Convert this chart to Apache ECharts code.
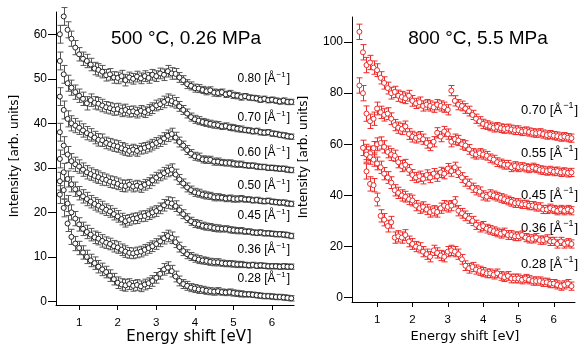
<!DOCTYPE html>
<html>
<head>
<meta charset="utf-8">
<script src="https://cdn.jsdelivr.net/npm/echarts@6/dist/echarts.min.js"></script>
<style>
  html, body { margin: 0; padding: 0; background: #fff; }
  #chart { width: 581px; height: 346px; }
</style>
</head>
<body>
<div id="chart"></div>
<script>
// energy shift grid [eV], shared by both panels
const energy = [
  0.5, 0.6, 0.7, 0.8, 0.9, 1.0,
  1.1, 1.2, 1.3, 1.4, 1.5, 1.6, 1.7, 1.8, 1.9, 2.0,
  2.1, 2.2, 2.3, 2.4, 2.5, 2.6, 2.7, 2.8, 2.9, 3.0,
  3.1, 3.2, 3.3, 3.4, 3.5, 3.6, 3.7, 3.8, 3.9, 4.0,
  4.1, 4.2, 4.3, 4.4, 4.5, 4.6, 4.7, 4.8, 4.9, 5.0,
  5.1, 5.2, 5.3, 5.4, 5.5, 5.6, 5.7, 5.8, 5.9, 6.0,
  6.1, 6.2, 6.3, 6.4, 6.5
];
const energyTicks = [1, 2, 3, 4, 5, 6];
const leftTicks = [0, 10, 20, 30, 40, 50, 60];
const rightTicks = [0, 20, 40, 60, 80, 100];

const leftTitle = "500 °C, 0.26 MPa";
const rightTitle = "800 °C, 5.5 MPa";
const xName = "Energy shift [eV]";
const yName = "Intensity [arb. units]";

// 500 C, 0.26 MPa (offset spectra)
const leftQ = ["0.80", "0.70", "0.60", "0.50", "0.45", "0.36", "0.28"];
const l080 = [
  60, 64, 61, 59, 57, 55.5,
  54.5, 54, 53.2, 52.3, 52, 51.6, 50.8, 51, 50.3, 50.2,
  50.6, 49.7, 50.3, 50, 50.5, 50.1, 50.6, 50.2, 50.9, 50.6,
  51.2, 50.9, 51.7, 51.2, 51.1, 50.3, 49.7, 48.8, 48.4, 47.9,
  47.8, 47.5, 47.2, 47.4, 46.9, 46.8, 47, 46.5, 46.7, 46.3,
  46.2, 45.9, 46.1, 45.8, 45.7, 45.6, 45.3, 45.5, 45.2, 45.3,
  45.1, 44.9, 45.1, 44.8, 44.8
];
const l070 = [
  54, 51, 49, 48, 47, 46.2,
  45.5, 44.5, 45.2, 44.6, 44.4, 44, 43.6, 43.4, 43.1, 43.2,
  42.8, 43, 42.6, 42.7, 42.4, 42.8, 42.5, 43, 43.4, 44,
  44.3, 44.8, 45.3, 45, 44.6, 43.8, 43, 42.2, 41.4, 40.9,
  40.6, 40.3, 40.1, 39.9, 39.7, 39.6, 39.3, 39.4, 39.1, 39,
  38.8, 38.7, 38.5, 38.4, 38.2, 38.3, 38, 37.9, 38, 37.7,
  37.6, 37.4, 37.3, 37.1, 37
];
const l060 = [
  46, 43, 41, 40, 39.5, 39,
  38.4, 37.8, 37.4, 36.8, 36.3, 36.2, 35.6, 35.3, 35, 34.8,
  34.4, 34.1, 33.8, 34.1, 33.8, 34.3, 34.5, 34.8, 35.2, 35.6,
  36, 36.6, 37.2, 37.6, 36.8, 35.8, 35, 34, 33.2, 32.6,
  32.4, 31.9, 31.8, 31.8, 31.4, 31.4, 31.2, 31.1, 31.1, 30.9,
  30.8, 30.8, 30.6, 30.5, 30.5, 30.3, 30.2, 30.2, 30, 30,
  29.9, 29.8, 29.8, 29.6, 29.5
];
const l050 = [
  38, 35, 33, 31.5, 30.8, 30.3,
  29.6, 29, 28.6, 28.2, 27.9, 27.5, 27.3, 26.9, 26.7, 26.4,
  26, 25.9, 26.2, 25.8, 26, 25.7, 26.2, 26.6, 27.2, 27.8,
  28.3, 28.8, 29.3, 29.6, 28.5, 27.4, 26.5, 25.6, 25, 24.5,
  24.3, 24, 23.8, 23.7, 23.4, 23.4, 23.3, 23.1, 23.2, 23,
  23, 23.1, 22.9, 22.9, 22.7, 22.8, 22.6, 22.5, 22.6, 22.4,
  22.3, 22.2, 22.2, 22, 21.9
];
const l045 = [
  32, 29, 27.5, 26.3, 25.2, 24.3,
  23.6, 23, 22.4, 21.9, 21.5, 21.1, 20.6, 20.2, 19.6, 19.1,
  18.5, 18, 18.3, 18.6, 18.7, 19.1, 19.2, 19.6, 20, 20.3,
  20.9, 21.6, 22.2, 22, 21.4, 20.5, 19.6, 18.7, 18, 17.5,
  17.3, 17, 16.8, 16.7, 16.5, 16.4, 16.3, 16.3, 16.1, 16,
  15.9, 15.9, 15.7, 15.7, 15.5, 15.4, 15.5, 15.3, 15.3, 15.2,
  15.1, 15.1, 15, 14.9, 14.7
];
const l036 = [
  27, 25, 22, 20, 18.6, 17.3,
  16.3, 15.6, 15, 14.4, 14.1, 13.6, 13.2, 12.9, 12.4, 12.1,
  11.6, 11.2, 10.9, 10.8, 11, 11.2, 11.6, 12, 12.4, 12.9,
  13.5, 14.2, 14.7, 14.3, 13.3, 12.2, 11.3, 10.6, 10.1, 9.7,
  9.4, 9.2, 9.1, 8.9, 8.8, 8.8, 8.6, 8.5, 8.5, 8.4,
  8.3, 8.3, 8.2, 8.1, 8.2, 8, 8.1, 8, 7.9, 7.9,
  7.9, 7.8, 7.9, 7.8, 7.8
];
const l028 = [
  24, 21, 17.5, 14.5, 13, 12,
  11, 10, 9.2, 8.6, 7.8, 7.2, 6.6, 5.8, 5, 4.2,
  3.8, 3.6, 3.9, 3.5, 3.7, 3.4, 3.8, 4.1, 4.6, 5.3,
  6.2, 7.2, 7.6, 6.8, 5.6, 4.6, 3.9, 3.5, 3.1, 2.9,
  2.7, 2.6, 2.4, 2.3, 2.2, 2.3, 2.1, 2, 2.1, 1.9,
  1.8, 1.7, 1.6, 1.6, 1.5, 1.4, 1.3, 1.2, 1.2, 1.1,
  1, 1, 0.9, 0.8, 0.7
];
// typical error bar half-length on the left panel
const errLeft = [
  2.0, 2.0, 1.8, 1.7, 1.6, 1.5,
  1.5, 1.5, 1.4, 1.4, 1.4, 1.4, 1.3, 1.3, 1.3, 1.3,
  1.3, 1.3, 1.2, 1.2, 1.2, 1.2, 1.2, 1.2, 1.2, 1.2,
  1.2, 1.3, 1.3, 1.3, 1.2, 1.1, 1.0, 1.0, 0.9, 0.9,
  0.9, 0.8, 0.8, 0.8, 0.8, 0.8, 0.7, 0.7, 0.7, 0.7,
  0.7, 0.7, 0.6, 0.6, 0.6, 0.6, 0.6, 0.6, 0.6, 0.6,
  0.6, 0.6, 0.6, 0.6, 0.6
];

// 800 C, 5.5 MPa (offset spectra)
const rightQ = ["0.70", "0.55", "0.45", "0.36", "0.28"];
const r070 = [
  104, 96, 91, 92, 90, 89,
  86, 84, 82, 80, 80.5, 79, 78.5, 78, 79, 77,
  76, 76.5, 75, 75.5, 75, 74.5, 75.5, 75, 74.5, 73.5,
  81, 77, 75.5, 75, 74, 73, 71.5, 70, 69, 68,
  67.5, 67, 66.5, 66.8, 66.3, 66, 66.2, 65.8, 65.5, 65.5,
  65, 65.2, 64.8, 64.5, 64.3, 64.5, 64, 63.6, 63.8, 63.4,
  63.2, 62.8, 63, 62.6, 62.4
];
const r055 = [
  83, 80, 72, 69, 70, 74,
  72.5, 71.5, 72, 70, 67.5, 66.5, 66, 67, 64, 63,
  62.5, 63, 62, 60.5, 59.5, 61, 64.5, 63, 65, 64,
  61, 62, 61.5, 60, 59.5, 58, 56.5, 56, 56.5, 56,
  55.5, 54.5, 54, 53, 52.5, 52, 52, 51, 51.5, 51,
  51.2, 50.8, 50.5, 51, 50.5, 50, 49.8, 49.5, 49.8, 49.3,
  49.5, 49, 49.2, 48.8, 49
];
const r045 = [
  null, 58.6, 57, 56.5, 58.5, 60,
  60.5, 59, 57, 56, 55.5, 53, 51.5, 52, 50, 48,
  47, 47.5, 46.5, 48, 47, 48.5, 47.5, 49, 48.5, 50.5,
  49.5, 51, 49, 47, 45.5, 44.5, 43, 42, 41.5, 40,
  39.5, 40.5, 40, 39.5, 39, 38.5, 38, 37.5, 37, 37,
  36.5, 36.5, 36, 36, 35.5, 35.5, 34.5, 34.5, 35, 34.5,
  34, 34.5, 34, 34.5, 34
];
const r036 = [
  null, null, 56, 55, 54, 52.5,
  51, 48.5, 47, 45, 42, 41, 40, 39.5, 38.5, 38,
  36, 35, 35.5, 34.5, 33.5, 34, 33.5, 35, 36, 35.5,
  36, 37.5, 34, 33, 32, 31, 30, 28.5, 27.5, 28,
  27, 26.5, 26, 25.5, 25, 25.5, 24.5, 24.5, 24, 24,
  24.5, 23.5, 23, 23, 23.5, 22.5, 22.5, 23, 22, 22,
  21, 22, 21, 21.5, 21
];
const r028 = [
  null, null, 49.4, 44.5, 44, 38.4,
  32, 30.5, 28, 29.5, 23.5, 24, 23.5, 24.5, 22, 21,
  20, 19.5, 18, 17, 16, 18.5, 17.5, 16.5, 16, 18,
  18.5, 18, 17, 15, 12.5, 11.5, 12, 11, 10.5, 10,
  9.5, 9.5, 9, 9.5, 8.5, 8, 8.5, 7.5, 7.5, 7.5,
  7, 7.5, 7, 6.5, 6.5, 6.5, 6, 6, 5.5, 5.5,
  5, 4.5, 5, 5.5, 4.5
];
const errRight = [
  3.0, 3.0, 3.0, 2.8, 2.6, 2.5,
  2.4, 2.4, 2.3, 2.3, 2.2, 2.2, 2.2, 2.1, 2.1, 2.1,
  2.0, 2.0, 2.0, 2.0, 2.0, 2.0, 2.0, 2.0, 2.0, 2.0,
  2.0, 2.0, 2.0, 1.9, 1.9, 1.9, 1.8, 1.8, 1.8, 1.8,
  1.7, 1.7, 1.7, 1.7, 1.7, 1.7, 1.7, 1.7, 1.7, 1.7,
  1.6, 1.6, 1.6, 1.6, 1.6, 1.6, 1.6, 1.6, 1.6, 1.6,
  1.6, 1.6, 1.6, 1.6, 1.6
];

const leftSpectra = [l080, l070, l060, l050, l045, l036, l028];
const rightSpectra = [r070, r055, r045, r036, r028];

// label positions (pixels) for the q-value annotations
const leftLabelY = [79, 118, 153, 186, 216, 250, 279];
const rightLabelY = [110, 153, 195, 228, 264];

const BLACK = "#222";
const RED = "#ee2b2b";

const chart = echarts.init(document.getElementById("chart"), null, { renderer: "canvas" });

function errorBars(idx, values, err, color) {
  const data = [];
  values.forEach((v, i) => {
    if (v != null) data.push([energy[i], v - err[i], v + err[i]]);
  });
  return {
    type: "custom",
    xAxisIndex: idx,
    yAxisIndex: idx,
    z: 2,
    silent: true,
    renderItem: (params, api) => {
      const lo = api.coord([api.value(0), api.value(1)]);
      const hi = api.coord([api.value(0), api.value(2)]);
      const x = Math.round(lo[0]) + 0.5;
      const w = 3;
      const st = { stroke: color, lineWidth: 1 };
      return {
        type: "group",
        children: [
          { type: "line", shape: { x1: x, y1: lo[1], x2: x, y2: hi[1] }, style: st },
          { type: "line", shape: { x1: x - w, y1: lo[1], x2: x + w, y2: lo[1] }, style: st },
          { type: "line", shape: { x1: x - w, y1: hi[1], x2: x + w, y2: hi[1] }, style: st },
        ],
      };
    },
    data: data,
  };
}

function points(idx, values, color) {
  const data = [];
  values.forEach((v, i) => {
    if (v != null) data.push([energy[i], v]);
  });
  return {
    type: "scatter",
    xAxisIndex: idx,
    yAxisIndex: idx,
    z: 3,
    symbol: "circle",
    symbolSize: 5,
    itemStyle: { color: "#fff", borderColor: color, borderWidth: 1, opacity: 1 },
    data: data,
  };
}

function xAxisCfg(idx, min, max) {
  return {
    gridIndex: idx,
    type: "value",
    min: min,
    max: max,
    axisLine: { show: true, onZero: false, lineStyle: { color: "#000", width: 1 } },
    axisTick: { show: true, customValues: energyTicks, length: 5, lineStyle: { color: "#000" } },
    axisLabel: {
      customValues: energyTicks,
      margin: 12,
      fontSize: 11.5,
      color: "#000",
      fontFamily: "Liberation Sans",
    },
    splitLine: { show: false },
  };
}

function yAxisCfg(idx, min, max, ticks) {
  return {
    gridIndex: idx,
    type: "value",
    min: min,
    max: max,
    axisLine: { show: true, onZero: false, lineStyle: { color: "#000", width: 1 } },
    axisTick: { show: true, customValues: ticks, length: 8, lineStyle: { color: "#000" } },
    axisLabel: {
      customValues: ticks,
      margin: 9,
      fontSize: 12,
      color: "#000",
      fontFamily: "Liberation Sans",
    },
    splitLine: { show: false },
  };
}

const series = [];
leftSpectra.forEach((s) => {
  series.push(errorBars(0, s, errLeft, "#555"));
  series.push(points(0, s, BLACK));
});
rightSpectra.forEach((s) => {
  series.push(errorBars(1, s, errRight, RED));
  series.push(points(1, s, RED));
});

function qLabel(q, x, y, size, color) {
  return {
    type: "text",
    x: x,
    y: y,
    style: {
      text: "{a|" + q + " [Å}{b|−1}{a|]}",
      align: "right",
      verticalAlign: "middle",
      fill: color,
      rich: {
        a: { fontSize: size, fontFamily: "Liberation Sans", fill: color, lineHeight: size + 4 },
        b: { fontSize: size - 4, fontFamily: "Liberation Sans", fill: color, verticalAlign: "top", padding: [0, 1, 0, 1] },
      },
    },
  };
}

const graphics = [
  {
    type: "text", x: 186, y: 39,
    style: { text: leftTitle, align: "center", verticalAlign: "middle", fontSize: 19, fontFamily: "Liberation Sans", fill: "#000" },
  },
  {
    type: "text", x: 478, y: 39,
    style: { text: rightTitle, align: "center", verticalAlign: "middle", fontSize: 19, fontFamily: "Liberation Sans", fill: "#000" },
  },
  {
    type: "text", x: 189, y: 337,
    style: { text: xName, align: "center", verticalAlign: "middle", fontSize: 15, fontFamily: "DejaVu Sans", fill: "#000" },
  },
  {
    type: "text", x: 465, y: 337,
    style: { text: xName, align: "center", verticalAlign: "middle", fontSize: 13, fontFamily: "DejaVu Sans", fill: "#000" },
  },
  {
    type: "text", x: 15, y: 156, rotation: Math.PI / 2,
    style: { text: yName, align: "center", verticalAlign: "middle", fontSize: 12, fontFamily: "DejaVu Sans", fill: "#000" },
  },
  {
    type: "text", x: 304, y: 157, rotation: Math.PI / 2,
    style: { text: yName, align: "center", verticalAlign: "middle", fontSize: 12, fontFamily: "DejaVu Sans", fill: "#000" },
  },
];
leftQ.forEach((q, i) => graphics.push(qLabel(q, 290, leftLabelY[i], 12, "#000")));
rightQ.forEach((q, i) => graphics.push(qLabel(q, 578, rightLabelY[i], 13, "#000")));

const option = {
  animation: false,
  backgroundColor: "#fff",
  grid: [
    { left: 56, top: 12, width: 238, height: 293 },
    { left: 352, top: 17, width: 223, height: 285 },
  ],
  xAxis: [xAxisCfg(0, 0.4, 6.57), xAxisCfg(1, 0.29, 6.6)],
  yAxis: [yAxisCfg(0, -0.8, 65, leftTicks), yAxisCfg(1, -1.7, 109.8, rightTicks)],
  series: series,
  graphic: graphics,
};

chart.setOption(option);
</script>
</body>
</html>
